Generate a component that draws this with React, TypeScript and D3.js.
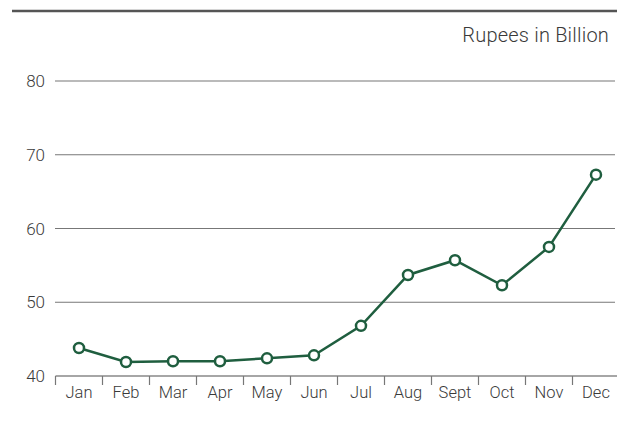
import React from "react";
import * as d3 from "d3";

const months = ["Jan", "Feb", "Mar", "Apr", "May", "Jun", "Jul", "Aug", "Sept", "Oct", "Nov", "Dec"];
const values = [43.8, 41.9, 42.0, 42.0, 42.4, 42.8, 46.8, 53.7, 55.7, 52.3, 57.5, 67.3];
const yTicks = [40, 50, 60, 70, 80];
const unitLabel = "Rupees in Billion";

const W = 617;
const H = 431;
const FONT = "Roboto, 'Liberation Sans', Arial, sans-serif";
const GREEN = "#1f5e3f";
const TEXT = "#3a3a3a";

export default function App() {
  const x = d3.scaleBand<string>().domain(months).range([55.5, 619.5]).padding(0);
  const y = d3.scaleLinear().domain([40, 80]).range([376, 81]);
  const line = d3
    .line<number>()
    .x((_, i) => (x(months[i]) as number) + x.bandwidth() / 2)
    .y((d) => y(d));

  return (
    <svg
      width={W}
      height={H}
      style={{ position: "fixed", left: 0, top: 0, background: "#fff" }}
    >
      <line x1={12} x2={617} y1={11} y2={11} stroke="#555" strokeWidth={2.5} />
      <text
        x={609}
        y={42}
        textAnchor="end"
        fontFamily={FONT}
        fontSize={20}
        fontWeight={300}
        letterSpacing={0.2}
        fill={TEXT}
      >
        {unitLabel}
      </text>
      {yTicks.map((t) => (
        <g key={t}>
          {t !== 40 && (
            <line x1={55} x2={615} y1={y(t)} y2={y(t)} stroke="#777" strokeWidth={1.2} />
          )}
          <text
            x={45}
            y={y(t)}
            dy="0.36em"
            textAnchor="end"
            fontFamily={FONT}
            fontSize={17}
            fontWeight={300}
            fill={TEXT}
          >
            {t}
          </text>
        </g>
      ))}
      <line x1={55.5} x2={617} y1={376} y2={376} stroke="#888" strokeWidth={1.5} />
      {months.map((m) => (
        <g key={m}>
          <line
            x1={x(m) as number}
            x2={x(m) as number}
            y1={376}
            y2={385}
            stroke="#777"
            strokeWidth={1.2}
          />
          <text
            x={(x(m) as number) + x.bandwidth() / 2}
            y={397.5}
            textAnchor="middle"
            fontFamily={FONT}
            fontSize={16.5}
            fontWeight={300}
            fill={TEXT}
          >
            {m}
          </text>
        </g>
      ))}
      <path d={line(values) || ""} fill="none" stroke={GREEN} strokeWidth={2.5} />
      {values.map((v, i) => (
        <circle
          key={months[i]}
          cx={(x(months[i]) as number) + x.bandwidth() / 2}
          cy={y(v)}
          r={5}
          fill="#fff"
          stroke={GREEN}
          strokeWidth={2.5}
        />
      ))}
    </svg>
  );
}
